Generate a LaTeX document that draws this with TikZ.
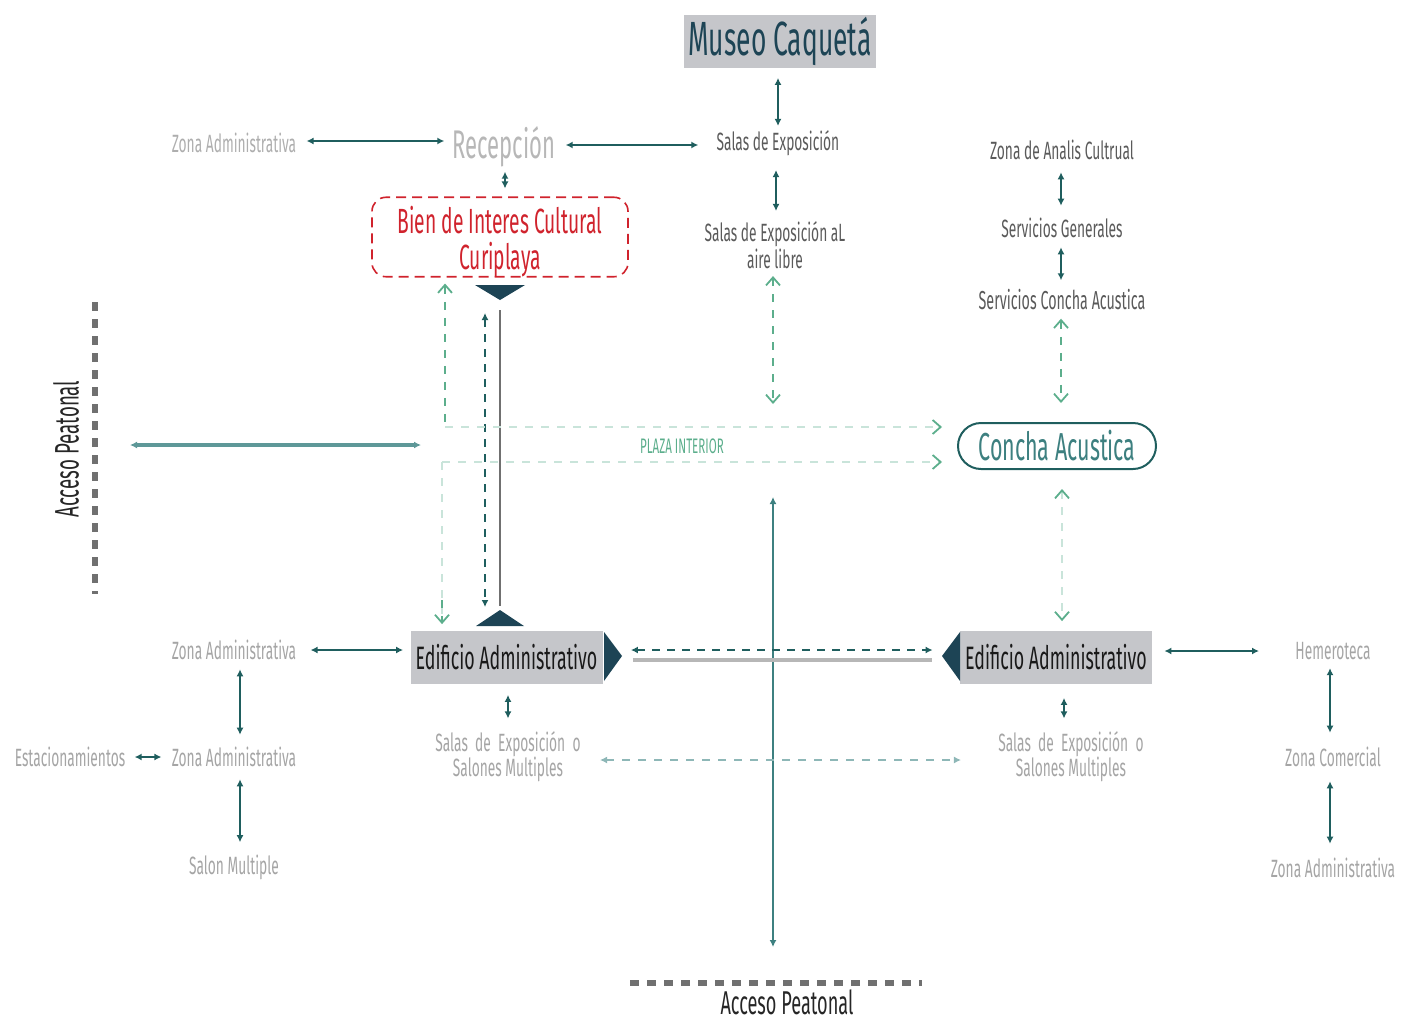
\documentclass[tikz,border=0pt]{standalone}
\usepackage{fontspec}
\usetikzlibrary{arrows.meta,calc}
\newfontfamily\cf{Fira Sans}[FakeStretch=0.55]
\definecolor{cteal}{HTML}{1F5E5E}
\definecolor{cteal2}{HTML}{3D8080}
\definecolor{cteal3}{HTML}{5E9898}
\definecolor{cgreen}{HTML}{5CAE8C}
\definecolor{clgreen}{HTML}{C9E4DA}
\definecolor{cgray}{HTML}{A5A5A5}
\definecolor{cdgray}{HTML}{5A5A5A}
\definecolor{cbox}{HTML}{C5C6CA}
\definecolor{cdark}{HTML}{1D4455}
\definecolor{cred}{HTML}{D0232D}
\definecolor{credl}{HTML}{E05A62}
\definecolor{cdot}{HTML}{707070}
\tikzset{
 lbl/.style={font=\cf\fontsize{12.5}{14}\selectfont, text=cgray, inner sep=1pt, align=center},
 lbld/.style={lbl, text=cdgray},
 boxg/.style={fill=cbox, inner sep=0pt, minimum width=96pt, minimum height=26.5pt, font=\cf\fontsize{16.2}{17}\selectfont, text=black!90},
 arr/.style={draw=cteal, line width=0.9pt, {Latex[length=3.5pt,width=3.5pt]}-{Latex[length=3.5pt,width=3.5pt]}},
 vtip/.tip={Straight Barb[length=4pt,width=7pt,line width=0.9pt,color=cgreen]},
 garr/.style={draw=cgreen, line width=0.8pt, dash pattern=on 4pt off 4pt},
 glarr/.style={draw=clgreen, line width=0.8pt, dash pattern=on 4pt off 4pt},
 dotline/.style={draw=cdot, line width=3pt, dash pattern=on 4.5pt off 4pt},
}
\begin{document}
\begin{tikzpicture}[x=0.5pt,y=-0.5pt]
\useasboundingbox (0,0) rectangle (1403,1023);
% ---------- nodes
\node[boxg, minimum width=96pt, font=\cf\fontsize{24}{26}\selectfont, text=cdark] (museo) at (780,41) {Museo Caquetá};
\node[lbld] (salas) at (778,143) {Salas de Exposición};
\node[lbl, font=\cf\fontsize{20}{22}\selectfont, text=cgray!80] (recep) at (504,147) {Recepción};
\node[lbl, text=cgray!90] (zona1) at (234,143) {Zona Administrativa};
\node[draw=cred, dash pattern=on 5pt off 3pt, line width=0.8pt, rounded corners=7pt,
      minimum width=128pt, minimum height=39.5pt, align=center, text=cred,
      font=\cf\fontsize{17.5}{18}\selectfont, inner sep=0pt] (bien) at (500,237) {\rule{0pt}{18pt}Bien de Interes Cultural\\Curiplaya};
\node[lbld, font=\cf\fontsize{12.5}{13.5}\selectfont] (salasal) at (775,245) {Salas de Exposición aL\\aire libre};
\node[lbld] (zac) at (1062,150) {Zona de Analis Cultrual};
\node[lbld] (sg) at (1062,228) {Servicios Generales};
\node[lbld, font=\cf\fontsize{13}{14}\selectfont] (sca) at (1062,300) {Servicios Concha Acustica};
\node[draw=cteal, line width=1pt, rounded corners=11.5pt, minimum width=99pt, minimum height=23pt,
      inner sep=0pt, text=cteal2, font=\cf\fontsize{19.5}{21}\selectfont] (concha) at (1057,446) {Concha Acustica};
\node[lbl, text=cgreen, font=\cf\fontsize{10.5}{12}\selectfont] (plaza) at (682,446) {PLAZA INTERIOR};
\node[boxg] (ed1) at (506.5,657) {Edificio Administrativo};
\node[boxg] (ed2) at (1056,657) {Edificio Administrativo};
\node[lbl] (za2) at (234,650) {Zona Administrativa};
\node[lbl] (za3) at (234,757) {Zona Administrativa};
\node[lbl] (est) at (70,757) {Estacionamientos};
\node[lbl] (salon) at (234,867) {Salon Multiple};
\node[lbl, font=\cf\fontsize{12.5}{12.5}\selectfont] (so1) at (508,757) {Salas\ \ de\ \ Exposición\ \ o\\Salones Multiples};
\node[lbl, font=\cf\fontsize{12.5}{12.5}\selectfont] (so2) at (1071,757) {Salas\ \ de\ \ Exposición\ \ o\\Salones Multiples};
\node[lbl] (hem) at (1333,651) {Hemeroteca};
\node[lbl] (zc) at (1333,757) {Zona Comercial};
\node[lbl] (za4) at (1333,868) {Zona Administrativa};
\node[font=\cf\fontsize{17}{19}\selectfont, text=black!85, rotate=90, inner sep=0pt] (acc1) at (66,449) {Acceso Peatonal};
\node[font=\cf\fontsize{16.5}{18}\selectfont, text=black!85, inner sep=0pt] (acc2) at (787,1002) {Acceso Peatonal};
% ---------- coordinates
\coordinate (c1) at (445,427);
\coordinate (c2) at (442,462);
\coordinate (sa) at (773,404);
\coordinate (pw) at (130,445);
\coordinate (pe) at (421,445);
\coordinate (vt) at (773,497);
\coordinate (vb) at (773,947);
% ---------- dotted access lines
\draw[dotline] (95,302) -- (95,594);
\draw[dotline] (630,983) -- (922,983);
% ---------- triangles
\fill[cdark] (475,285) -- (525,285) -- (500,300) -- cycle;
\fill[cdark] (476,626) -- (524,626) -- (500,610) -- cycle;
\fill[cdark] (604,632) -- (622,656) -- (604,681) -- cycle;
\fill[cdark] (960,632) -- (942,656) -- (960,681) -- cycle;
% ---------- solid connectors
\draw[arr] (museo.south -| 778,0) ++(0,10) -- ($(salas.north)+(0,-2)$);
\draw[arr] ($(zona1.east)+(8,-2)$) -- ($(recep.west)+(-6,-6)$);
\draw[arr] ($(recep.east)+(8,-2)$) -- ($(salas.west)+(-16,2)$);
\draw[arr] ($(recep.south)+(1,2)$) -- ($(bien.north)+(5,-8)$);
\draw[arr] ($(salas.south)+(-2,12)$) -- ($(salasal.north)+(1,-8)$);
\draw[arr] ($(zac.south)+(-1,10)$) -- ($(sg.north)+(-1,-10)$);
\draw[arr] ($(sg.south)+(-1,7)$) -- ($(sca.north)+(-1,-7)$);
\draw[arr] ($(za2.east)+(12,0)$) -- ($(ed1.west)+(-7,-7)$);
\draw[arr] ($(za2.south)+(6,7)$) -- ($(za3.north)+(6,-10)$);
\draw[arr] ($(est.east)+(7,0)$) -- ($(za3.west)+(-8,0)$);
\draw[arr] ($(za3.south)+(6,10)$) -- ($(salon.north)+(6,-10)$);
\draw[arr] ($(ed1.south)+(1.5,11)$) -- ($(so1.north)+(0,-11)$);
\draw[arr] ($(ed2.south)+(8,14)$) -- ($(so2.north)+(-7,-11)$);
\draw[arr] ($(ed2.east)+(12,-6)$) -- ($(hem.west)+(-34,0)$);
\draw[arr] ($(hem.south)+(-3,6)$) -- ($(zc.north)+(-3,-12)$);
\draw[arr] ($(zc.south)+(-3,12)$) -- ($(za4.north)+(-3,-12)$);
\draw[arr, draw=cteal3, line width=1.6pt] (pw) -- (pe);
\draw[arr, draw=cteal2, line width=1pt] (vt) -- (vb);
% ---------- gray solid lines
\draw[draw=cdot, line width=1.1pt] (500,310) -- (500,606);
\draw[draw=cgray!80, line width=2.2pt] ($(ed1.east)+(30,3)$) -- ($(ed2.west)+(-28,3)$);
% ---------- dark dashed double arrows
\draw[arr, dash pattern=on 4pt off 3.5pt] (485,313) -- (485,607);
\draw[arr, dash pattern=on 4pt off 3.5pt] ($(ed1.east)+(28,-7)$) -- ($(ed2.west)+(-27,-7)$);
% ---------- green dashed connectors
\draw[garr, vtip-vtip] ($(salasal.south)+(-2,5)$) -- (sa);
\draw[garr, vtip-vtip] ($(sca.south)+(-1,6)$) -- ($(concha.north)+(4,-19)$);
\draw[glarr, vtip-vtip] ($(concha.south)+(5,19)$) -- ($(ed2.north)+(6,-9)$);
\draw[garr, vtip-] (bien.south -| c1) ++(0,6) -- (c1);
\draw[glarr, -vtip] (c1) -- ($(concha.west)+(-15,-19)$);
\draw[glarr] (c2) -- ($(ed1.north -| c2)+(0,-8)$);
\draw[garr, -vtip] ($(ed1.north -| c2)+(0,-30)$) -- ($(ed1.north -| c2)+(0,-6)$);
\draw[glarr, -vtip] (c2) -- ($(concha.west)+(-15,16)$);
\draw[arr, draw=cteal3!70, line width=0.7pt, dash pattern=on 4pt off 4pt] ($(so1.east)+(17,3)$) -- ($(so2.west)+(-35,3)$);
\end{tikzpicture}
\end{document}
